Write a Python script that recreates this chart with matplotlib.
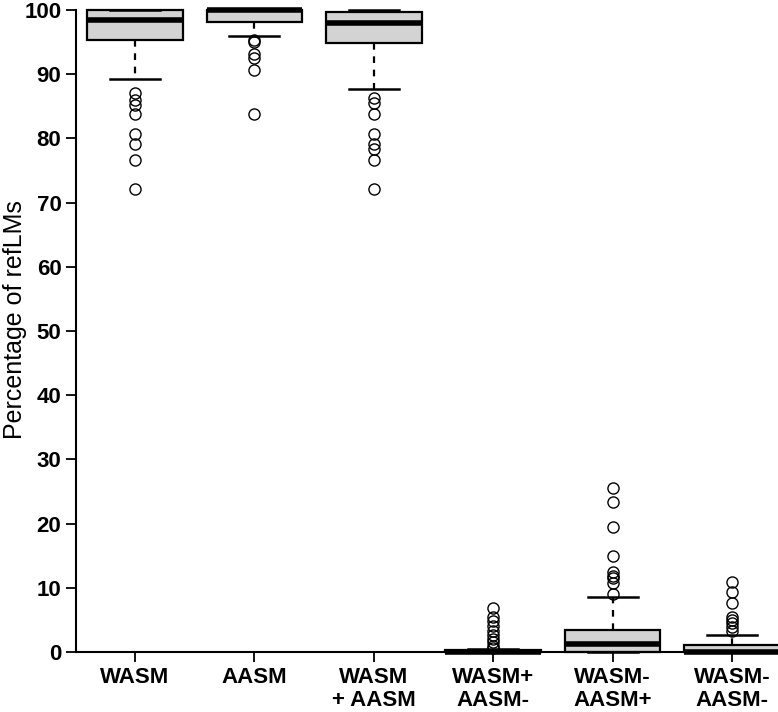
import matplotlib.pyplot as plt
import numpy as np

plt.rcParams['font.family'] = ['Liberation Sans', 'DejaVu Sans']

# categorias y estadisticos
labels = ["WASM", "AASM", "WASM\n+ AASM", "WASM+\nAASM-", "WASM-\nAASM+", "WASM-\nAASM-"]
q1 = [95.3, 98.2, 94.8, 0.0, 0.0, 0.0]
med = [98.4, 100.0, 97.9, 0.0, 1.25, 0.0]
q3 = [100.0, 100.0, 99.7, 0.3, 3.4, 1.1]
whislo = [89.3, 96.0, 87.7, 0.0, 0.0, 0.0]
whishi = [100.0, 100.0, 100.0, 0.5, 8.5, 2.6]
outliers = [
    [87.1, 85.9, 85.2, 83.8, 80.7, 79.1, 76.6, 72.1],
    [95.3, 95.0, 93.2, 92.5, 90.7, 83.8],
    [86.3, 85.5, 83.8, 80.7, 79.1, 78.4, 76.7, 72.1],
    [6.9, 5.5, 4.8, 4.0, 3.3, 2.6, 2.0, 1.5, 1.0, 0.6],
    [25.6, 23.3, 19.4, 15.0, 12.4, 11.8, 11.5, 10.7, 9.0],
    [10.95, 9.4, 7.7, 5.5, 5.0, 4.5, 3.9, 3.2],
]

stats = []
for i in range(len(labels)):
    stats.append(dict(q1=q1[i], med=med[i], q3=q3[i], whislo=whislo[i],
                      whishi=whishi[i], fliers=outliers[i], label=labels[i]))

fig = plt.figure(figsize=(7.78, 7.12), dpi=100)
ax = fig.add_axes([0.0977, 0.0843, 0.9023, 0.9017])

pos = np.arange(1, len(labels) + 1)
art = ax.bxp(stats, positions=pos, widths=0.8, patch_artist=True,
             boxprops=dict(facecolor='#d3d3d3', edgecolor='black', linewidth=1.6),
             medianprops=dict(color='black', linewidth=4, solid_capstyle='butt'),
             whiskerprops=dict(color='black', linewidth=1.6, linestyle=(0, (3, 3))),
             capprops=dict(color='black', linewidth=1.8),
             flierprops=dict(marker='o', markerfacecolor='none', markeredgecolor='black',
                             markersize=8, markeredgewidth=1.0),
             capwidths=0.42)
for k in art:
    for a in art[k]:
        a.set_clip_on(False)

ax.set_xlim(0.506, 6.385)
ax.set_ylim(0, 100)
ax.set_yticks(np.arange(0, 101, 10))
ax.set_xticks(pos)
ax.set_xticklabels(labels, fontsize=16, fontweight='bold', linespacing=1.15)
ax.tick_params(axis='y', labelsize=16, width=1.3, length=7)
ax.tick_params(axis='x', width=1.3, length=7)
for t in ax.get_yticklabels():
    t.set_fontweight('bold')
ax.set_ylabel('Percentage of refLMs', fontsize=18)
ax.yaxis.set_label_coords(-0.07, 0.517)
ax.spines['top'].set_visible(False)
ax.spines['right'].set_visible(False)
ax.spines['left'].set_linewidth(1.5)
ax.spines['bottom'].set_linewidth(1.5)

fig.savefig('out.png', dpi=100)
